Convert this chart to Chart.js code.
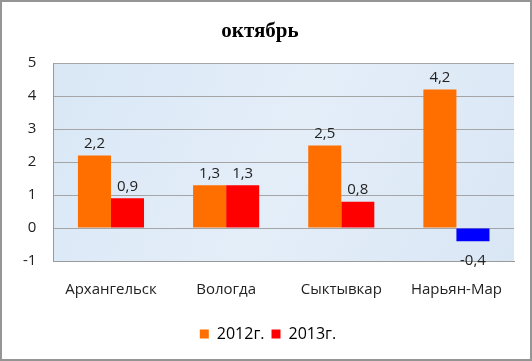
<!DOCTYPE html>
<html>
<head>
<meta charset="utf-8">
<script src="https://cdn.jsdelivr.net/npm/chart.js@4/dist/chart.umd.min.js"></script>
<style>
html,body{margin:0;padding:0;background:#fff;}
#wrap{position:absolute;left:0;top:0;width:528px;height:357px;border:2px solid #959595;}
canvas{position:absolute;left:0;top:0;}
</style>
</head>
<body>
<div id="wrap"></div>
<canvas id="c" width="532" height="361"></canvas>
<script>
const categories = ["Архангельск", "Вологда", "Сыктывкар", "Нарьян-Мар"];
const series2012 = [2.2, 1.3, 2.5, 4.2];
const series2013 = [0.9, 1.3, 0.8, -0.4];
const seriesNames = ["2012г.", "2013г."];
const yTicks = [-1, 0, 1, 2, 3, 4, 5];
const titleText = "октябрь";

const color2012 = "#ff6f00";
const color2013 = "#ff0000";
const colorNeg = "#0000ff";

const fmt = v => String(v).replace('.', ',');
const FONT = '"Open Sans", "Liberation Sans", sans-serif';

const bgPlugin = {
  id: 'plotBg',
  beforeDraw(chart) {
    const {ctx, chartArea: a} = chart;
    ctx.save();
    const g = ctx.createLinearGradient(a.left, a.top, a.right, a.bottom);
    g.addColorStop(0, '#d9e7f5');
    g.addColorStop(0.5, '#e4eef9');
    g.addColorStop(1, '#d9e6f4');
    ctx.fillStyle = g;
    ctx.fillRect(a.left, a.top, a.right - a.left, a.bottom - a.top);
    ctx.restore();
  }
};

const legendShift = {
  id: 'legendShift',
  afterLayout(chart) {
    if (chart.legend) { chart.legend.left += 8; chart.legend.right += 8; }
  }
};

const labelPlugin = {
  id: 'valueLabels',
  afterDatasetsDraw(chart) {
    const ctx = chart.ctx;
    ctx.save();
    ctx.font = '15px ' + FONT;
    ctx.fillStyle = '#222';
    ctx.textAlign = 'center';
    chart.data.datasets.forEach((ds, i) => {
      const meta = chart.getDatasetMeta(i);
      meta.data.forEach((bar, j) => {
        const v = ds.data[j];
        if (v >= 0) {
          ctx.textBaseline = 'bottom';
          ctx.fillText(fmt(v), bar.x, bar.y - 4);
        } else {
          ctx.textBaseline = 'top';
          ctx.fillText(fmt(v), bar.x, bar.y + 12);
        }
      });
    });
    ctx.restore();
  }
};

new Chart(document.getElementById('c'), {
  type: 'bar',
  data: {
    labels: categories,
    datasets: [
      {label: seriesNames[0], data: series2012, backgroundColor: color2012, categoryPercentage: 0.574, barPercentage: 1.0},
      {label: seriesNames[1], data: series2013, backgroundColor: series2013.map(v => v < 0 ? colorNeg : color2013), categoryPercentage: 0.574, barPercentage: 1.0}
    ]
  },
  options: {
    responsive: false,
    animation: false,
    devicePixelRatio: 1,
    layout: {padding: {left: 6, right: 18, top: 8, bottom: 9}},
    plugins: {
      title: {
        display: true, text: titleText,
        font: {family: '"Liberation Serif", "Times New Roman", serif', size: 21, weight: 'bold'},
        color: '#000',
        padding: {top: 11, bottom: 19}
      },
      legend: {
        position: 'bottom',
        labels: {
          boxWidth: 9, boxHeight: 9, padding: 7,
          font: {family: FONT, size: 16},
          color: '#222',
          generateLabels(chart) {
            return [
              {text: seriesNames[0], fillStyle: color2012, strokeStyle: color2012, lineWidth: 0, datasetIndex: 0},
              {text: seriesNames[1], fillStyle: color2013, strokeStyle: color2013, lineWidth: 0, datasetIndex: 1}
            ];
          }
        }
      },
      tooltip: {enabled: false}
    },
    scales: {
      x: {
        grid: {display: false, drawTicks: false},
        border: {display: true, color: '#9a9a9a', width: 1},
        ticks: {font: {family: FONT, size: 15}, color: '#222', padding: 20}
      },
      y: {
        min: -1, max: 5,
        afterBuildTicks(axis) { axis.ticks = yTicks.map(v => ({value: v})); },
        grid: {color: '#a5a5a5', lineWidth: 1, drawTicks: false},
        border: {display: true, color: '#9a9a9a', width: 1},
        ticks: {font: {family: FONT, size: 15}, color: '#222', padding: 17, callback: v => fmt(v)}
      }
    }
  },
  plugins: [bgPlugin, labelPlugin, legendShift]
});
</script>
</body>
</html>
